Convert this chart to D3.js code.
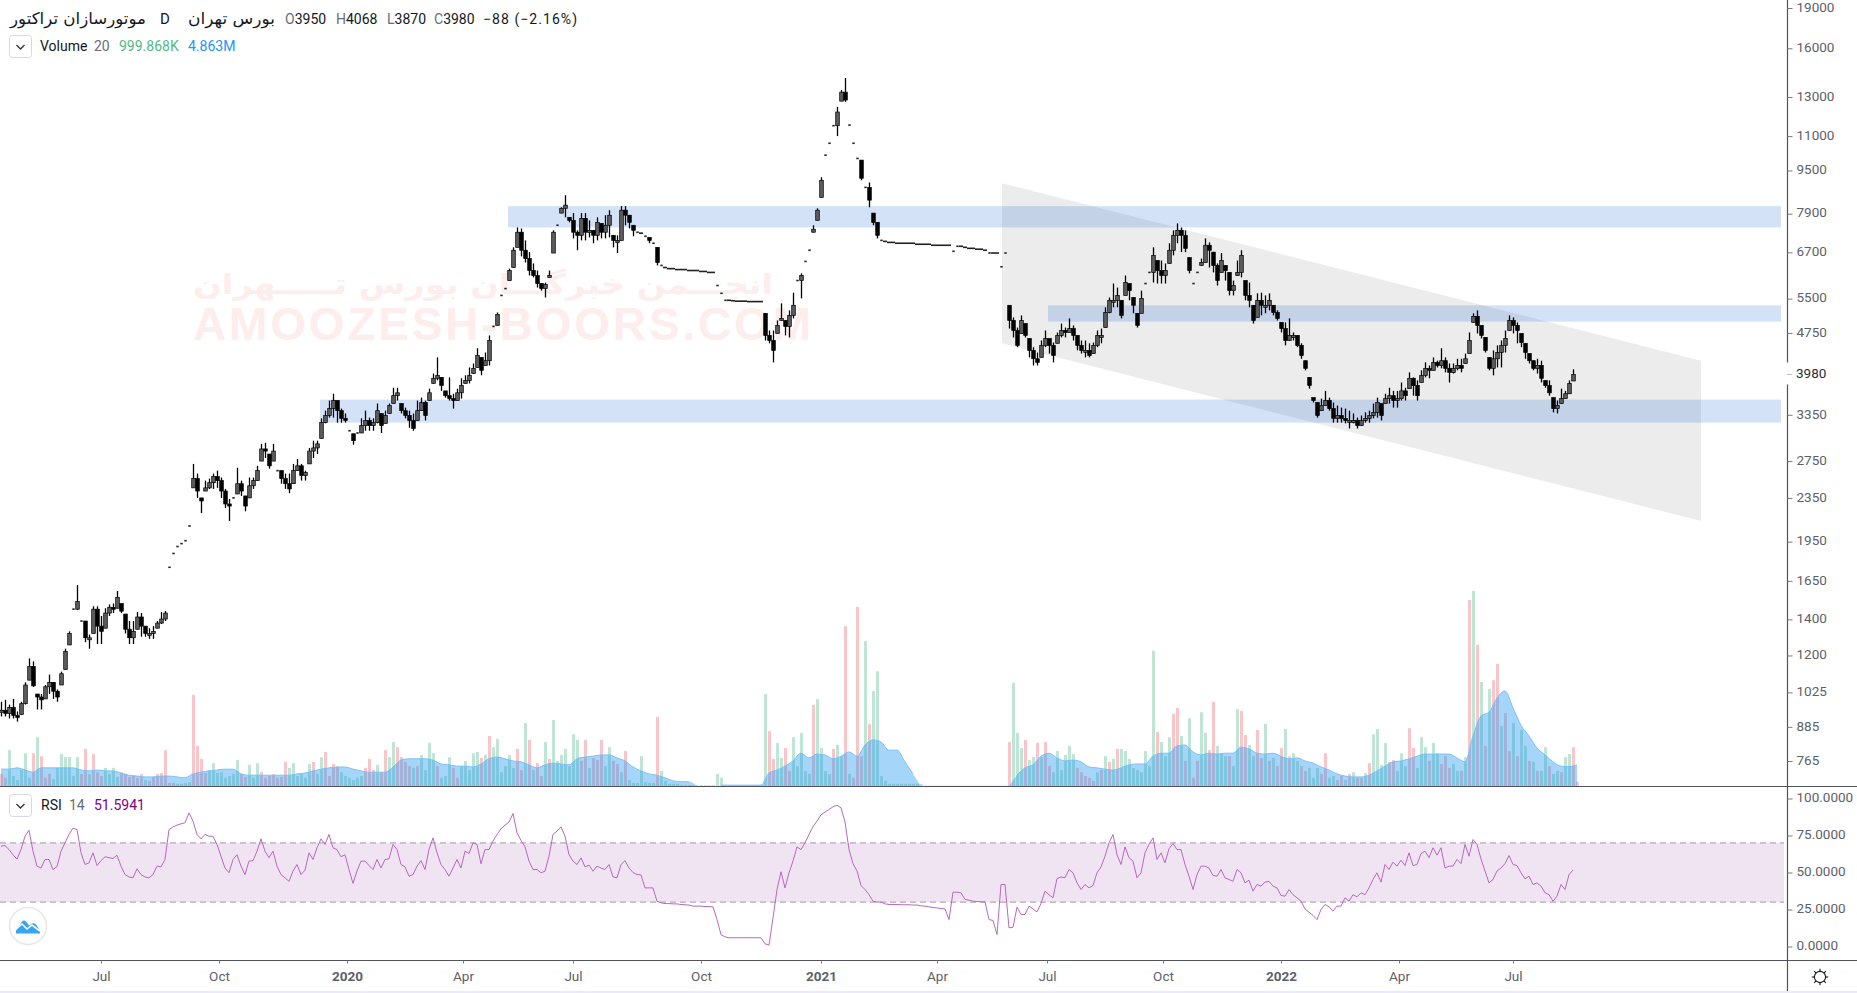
<!DOCTYPE html>
<html><head><meta charset="utf-8">
<script src="https://cdn.jsdelivr.net/npm/d3@7/dist/d3.min.js"></script>
<style>
html,body{margin:0;padding:0;background:#fff;overflow:hidden}
svg{display:block}
text{font-family:Roboto,sans-serif}
.fa{font-family:"DejaVu Sans",sans-serif}
</style></head><body>
<svg id="c" width="1857" height="993"></svg>
<script>
// Session closes, sampled every second trading bar
const closes=[950,937,961,929,921,977,1058,1145,1054,1005,
993,1050,1070,1030,1005,1110,1220,1318,1462,1510,
1390,1294,1294,1462,1360,1330,1438,1474,1462,1538,
1450,1342,1294,1330,1414,1360,1318,1318,1330,1378,
1402,1438,1748,1854,1910,1934,1958,2085,2552,2420,
2320,2453,2508,2574,2530,2420,2290,2270,2350,2497,
2420,2270,2475,2530,2640,2896,2870,2695,2870,2640,
2552,2497,2442,2640,2695,2585,2618,2870,2909,2960,
3240,3340,3440,3560,3410,3300,3270,3130,3000,3100,
3200,3270,3200,3240,3410,3200,3340,3485,3635,3680,
3410,3340,3270,3160,3410,3530,3340,3680,3915,3965,
3795,3635,3590,3560,3680,3795,3880,3965,4085,4315,
4050,4220,4600,4885,5140,5575,5740,6200,6760,7300,
6760,6525,6200,6070,5865,5740,5840,6070,7300,7520,
8085,8195,7680,7300,7205,7745,7300,7360,7205,7615,
7300,7520,7850,7050,7050,8020,7850,7615,7360,7300,
7270,7175,7050,6965,6415,6335,6280,6250,6250,6225,
6225,6225,6200,6200,6200,6175,6175,6150,6150,5815,
5625,5460,5460,5450,5440,5440,5440,5430,5430,5430,
5430,4700,4600,4410,4905,5055,4885,5120,5345,5940,
6070,6445,6760,7395,8020,9110,10140,10670,11500,12190,
13270,12830,11530,10670,10000,9190,8840,8370,7615,7205,
7050,7020,6990,6990,6965,6965,6965,6965,6965,6935,
6935,6935,6935,6905,6905,6905,6905,6905,6730,6875,
6875,6845,6815,6815,6790,6790,6760,6680,6680,6680,
6300,6680,5010,4800,4505,5010,4700,4410,4255,4190,
4505,4640,4505,4315,4700,4800,4760,4840,4700,4505,
4410,4410,4315,4505,4700,4700,5185,5460,5460,5575,
5120,5890,5690,5345,4905,5505,5865,6150,6615,6200,
6070,6200,6760,7205,7360,7205,6815,6200,5865,6150,
6415,6905,6760,6335,5940,6470,6200,5690,5815,6150,
6615,5575,5460,5010,5460,5345,5345,5460,5185,5055,
4840,4600,4700,4700,4505,4315,4085,3795,3560,3340,
3485,3560,3440,3300,3340,3300,3270,3270,3270,3200,
3270,3300,3340,3385,3530,3340,3590,3635,3560,3590,
3710,3635,3915,3795,3635,3965,4085,4050,4190,4135,
4220,4085,4015,4085,4135,4085,4255,4600,5100,4905,
4700,4410,4085,4255,4370,4505,4640,5010,4905,4800,
4560,4370,4220,4085,4135,3915,3795,3680,3440,3485,
3590,3665,3830,3980];
// Session highs; 0 marks a session that traded flat at its close
const highs=[985,993,973,997,945,985,1070,1185,1170,1018,
1018,1058,1106,1070,1038,1120,1235,1330,0,1620,
0,1390,1312,1480,1480,1420,1468,1492,1498,1580,
1498,1432,1390,1390,1444,1438,1360,1348,1360,1390,
1444,1450,0,0,0,0,0,0,2717,2607,
2350,2530,2552,2607,2640,2563,2442,2340,0,2673,
2530,2370,2563,2563,2695,2960,2973,2834,2960,0,
2640,2607,2607,2717,2774,2717,2640,2909,3000,3000,
3300,3410,3560,3665,3560,3440,3370,0,3090,0,
3300,3410,3310,3300,3515,3370,3410,3515,3760,3760,
3515,3455,3410,3370,3560,3605,3560,3745,3995,4280,
3930,3710,3930,3665,3745,3915,3965,4100,4170,4450,
4280,4370,4700,0,5185,0,0,6250,6845,7450,
7420,7050,6705,6390,6200,5865,5890,6200,7360,0,
8120,8550,7780,7920,7360,7920,7920,7680,7360,7780,
7580,7850,8020,7205,7205,8160,8160,7850,7520,0,
0,0,7140,0,6845,0,0,0,0,0,
0,0,0,0,0,0,0,0,0,0,
0,0,0,0,0,0,0,0,0,0,
0,5165,4800,4800,5010,5390,5010,5230,5640,0,
6125,0,0,7520,8085,9230,0,0,0,12460,
13390,14090,0,0,0,9930,0,9030,7920,7615,
0,0,0,0,0,0,0,0,0,0,
0,0,0,0,0,0,0,0,0,0,
0,0,0,0,0,0,0,0,0,0,
0,0,5345,5075,4860,5120,4945,4640,4470,4370,
4600,4800,4640,4560,4760,4945,4860,5055,4905,4700,
4600,4600,4545,4560,4800,4840,5300,5525,5865,5765,
5460,6070,5865,5525,5165,5690,0,0,6845,6470,
6470,6390,6965,7360,7580,7450,7360,6550,0,0,
6525,7110,6990,6705,6390,6680,6335,6150,5940,6470,
6760,5940,5890,5345,5625,5640,5575,5625,5345,5230,
4970,4970,5055,4760,4700,4545,4220,3930,3605,3530,
3590,3710,3605,3530,3485,3455,3440,3410,3370,3310,
3340,3385,3410,3515,3605,3515,3665,3760,3710,3710,
3845,3760,4015,3930,3880,4050,4190,4135,4280,4220,
4450,4280,4170,4170,4255,4255,4350,4760,5165,5230,
4905,4660,4280,4410,4505,4600,4800,5120,5075,4970,
4740,4545,4350,4220,4255,4220,3880,3880,3605,3560,
3745,3710,3880,4068];
// Session lows; 0 marks a flat session
const lows=[925,925,917,917,905,933,973,1080,1050,953,
953,997,1018,997,985,1058,1130,1255,0,1456,
0,1270,1235,1318,1260,1260,1348,1420,1438,1468,
1438,1318,1260,1260,1342,1300,1300,1288,1288,1348,
1372,1390,0,0,0,0,0,0,2453,2350,
2202,2420,2442,2442,2453,2350,2250,2130,0,2390,
2370,2220,2350,2442,2530,2750,2786,2662,2750,0,
2497,2442,2398,2497,2640,2530,2530,2717,2786,2834,
3030,3230,3310,3310,3240,3240,3240,0,2950,0,
3100,3130,3130,3130,3230,3100,3230,3370,3515,3560,
3370,3300,3170,3130,3270,3410,3270,3560,3830,3880,
3710,3605,3560,3440,3560,3590,3830,3830,3995,4100,
3965,4135,4135,0,4905,0,0,5940,6280,6845,
6585,6415,6070,6020,5765,5690,5525,6020,6680,0,
7920,7780,7615,7110,6760,7050,7050,7140,6965,7050,
7110,7110,7140,6845,6680,7050,7520,7420,7175,0,
0,0,6965,0,6335,0,0,0,0,0,
0,0,0,0,0,0,0,0,0,0,
0,0,0,0,0,0,0,0,0,0,
0,4600,4545,4190,4740,5010,4700,4660,5055,0,
5505,0,0,7300,7680,8470,0,0,0,11000,
12770,12730,0,0,0,9110,0,8120,7520,7110,
0,0,0,0,0,0,0,0,0,0,
0,0,0,0,0,0,0,0,0,0,
0,0,0,0,0,0,0,0,0,0,
0,0,4840,4660,4470,4740,4660,4280,4135,4135,
4280,4470,4350,4190,4545,4660,4660,4760,4600,4410,
4350,4280,4280,4350,4470,4545,4860,5165,5300,5300,
5055,5575,5460,5165,4860,5165,0,0,5890,5865,
5865,5865,6390,6615,6965,6705,6705,6125,0,0,
6335,6415,6280,6150,5815,6150,5940,5575,5575,6070,
6020,5460,5300,4945,5075,5120,5165,5230,5120,5010,
4760,4505,4600,4600,4470,4255,4050,3745,3530,3310,
3410,3485,3410,3240,3240,3240,3230,3160,3230,3160,
3200,3240,3240,3300,3310,3270,3515,3515,3455,3455,
3560,3560,3745,3635,3560,3845,3930,3915,4050,4100,
4085,4015,3845,3995,4050,4015,4170,4350,4970,4740,
4640,4370,4050,3965,4100,4100,4370,4800,4740,4545,
4470,4255,4170,4050,3995,3845,3760,3635,3385,3370,
3515,3590,3665,3870];
// RSI(14), same sampling
const rsi=[67.8,68.2,65.5,62,59,65.5,74.5,78.6,64.4,54.3,
53,58.8,58.8,52,54,64.4,70,75.7,80,79,
63.3,55.4,56.5,63.3,54.7,58,60.6,60,59.5,61.7,
54.3,48.6,47,46.4,52.5,48.6,47,46.4,48.6,54.3,
53.8,58.8,79,80.8,82,82.9,83.6,90.3,84.7,75.7,
72.7,75.7,74.5,74.5,68.9,61,53,49.8,58.8,62,
54.3,48.6,57.7,58,64.4,72.7,64.4,60,64.4,54.3,
48.6,46.4,44,51,55.4,48.6,51.6,63.3,58.8,66.7,
72.7,69,75.7,66.7,65.5,60.6,62,52,42.6,51,
57.7,57.7,54.7,52,58.8,53,58.8,59.2,69,65.5,
55.4,53.8,47.5,48.6,54.3,58,52,65.5,73.4,63.3,
55.4,52,47.5,53,58.8,53,64.4,62.8,70,69,
55.9,65.5,65.5,71.2,75.7,79.5,82,84,89.9,76.8,
71.8,67.3,57.7,52,52,49.8,50.9,61,75.7,78,
80.9,74.5,62,57.7,55.4,59.9,53.8,55,50.9,54.3,
53,52,55.4,47,46.4,55.4,58,53,50,48.6,
48.4,39.6,39.6,39.6,30.6,29.5,29,29,28.8,28.8,
28.4,28.2,28,27.3,27.3,27.3,27,27,26.8,18.2,
8,6.5,5.9,5.9,5.9,5.9,5.9,5.9,5.9,5.9,
5.9,1.8,0.9,19.4,38.5,50.5,39.6,49.8,57.7,67.3,
65.5,70,75.7,80.9,84.7,89,90.8,92.6,94.4,95.5,
93.7,84.2,65.5,56,51,41.2,38.5,35,30.6,30,
30,28.8,28.4,28.4,28.4,28.2,28.2,28.2,28,28,
27.5,27.3,26.8,26.4,26.1,25.7,25.4,18.2,36.7,36.7,
36.3,31.8,31.3,30.6,30.4,30.2,30.2,18.2,17.6,8.1,
41.9,41.9,12.6,13,26.6,21.6,21.6,27.3,25.4,23.4,
29,37.4,35,32.9,45.9,47,46.4,52,49.8,43,
38.5,41.9,39.6,41.2,49.8,53.8,61,70,75.7,62,
55.4,67.3,60,57.7,46.4,49.8,63.3,69,73.4,58.8,
63.3,56.5,66,69.6,65.5,65.5,55.4,47.5,38.5,48.6,
54.3,54.3,53,48,47.5,52,46.4,45.3,44,52,
49.8,43,44.8,37.4,41.9,40.8,43.5,44,40.8,39.6,
34.5,34,38.5,35,32.9,30.6,25.4,23.2,21,18.2,
25,28.4,26.8,23.9,27.3,27.3,32.9,30.6,35,33.6,
36.3,35,39.6,45.3,49.8,43.5,55.4,52,57,54.3,
58.3,54.7,63.3,54.7,55.4,62.8,64.4,60,66.7,61.7,
66.7,53,54.3,54.3,58.8,56,69,61,72.3,69,
59.2,51,43,45.3,51,53,56,61.5,55.4,54.7,
49.8,45.7,47.5,41.9,43,40.8,36.3,35,30.6,34,
41.9,38.5,48.6,51.6];
// Volume in millions, same sampling
const volumes=[2.8,1.9,8.3,2.3,1.4,3.7,7.6,1.9,7.6,11.3,
6.9,1.9,2.8,1.6,4.2,7.4,6.7,6.7,2.3,6.7,
2.8,8.6,2.8,7.4,3.2,2.3,4.2,2.8,4.2,2.1,
3.2,2.8,2.1,2.3,1.9,2.8,1.4,1.2,2.1,2.8,
3,8.3,.7,.7,.5,.5,.7,.9,21.1,9.3,
6.3,3,3.7,5.3,3,3.2,1.9,2.3,2.8,6,
2.8,2.1,4.9,1.9,5.3,3.2,1.9,2.3,2.8,1.9,
2.1,5.6,4.2,5.3,2.3,3,1.9,5.1,5.6,2.8,
6.7,7.9,2.3,5.1,4.6,3.2,2.3,1.9,1.4,1.9,
2.3,4.2,6.3,3.7,4.9,3.2,8.3,6.7,10.2,9,
6.7,5.6,4.6,4.2,4.6,7.2,3.7,10,7.6,4.6,
1.9,2.3,6.7,4.2,1.9,4.6,5.8,3.7,7.6,7.9,
6.5,7.2,11.6,9,10.9,3.2,4.6,7.2,4.2,8.6,
3.7,14.6,10.7,3.7,5.3,2.3,10.2,6.3,15.3,5.8,
7.2,8.6,4.6,12,10.7,5.8,10.7,4.2,6.5,6,
10.7,4.6,9,5.8,5.1,3.2,8.1,1.4,.7,.7,
6.9,.9,.7,.7,16,3.5,1.2,.5,.5,.5,
.2,.2,.2,.2,.2,.2,.2,.2,.2,2.8,
1.9,.2,.2,.2,.2,.2,.2,.2,.2,.2,
.2,21.3,12.7,6.3,10,6.5,8.8,3.5,11.3,4.6,
12.3,3.5,2.8,18.8,20.1,8.8,3.5,2.8,8.6,9.5,
6.9,37,2.8,1.9,41.5,6.9,33.6,14.4,22,26.6,
2.3,1.2,.5,.5,.5,.5,.5,.5,.5,.5,
.5,.1,.1,.1,.1,.1,.1,.1,.1,.1,
.1,.1,.1,.1,.1,.1,.1,.1,.1,.1,
.1,.1,10.2,23.9,12.3,8.8,10.7,6,6.7,10,
6.7,10.2,4.6,3.2,8.1,3.7,7.2,9.3,7.4,4.2,
3.2,2.3,1.9,1.2,3.2,3.7,6.9,5.6,6.3,8.6,
8.6,8.1,6.3,4.2,3.7,3.2,8.1,4.6,31.3,12.5,
10.2,6.9,11.3,16.7,18.1,11.6,5.8,15.7,1.9,5.8,
17.1,12.3,8.3,19.5,9.3,7.4,6.9,6.9,4.6,17.8,
17.4,11.8,9.5,6.9,13,6.5,14.4,5.8,6.5,4.6,
8.8,13.2,6.9,7.6,5.8,4.6,3.5,4.2,1.9,4.2,
2.8,7.6,1.9,2.3,1.4,2.3,1.4,2.8,3.2,1.9,
1.9,3,5.3,12,13.2,4.9,10,5.6,6,3.5,
7.6,4.6,13.4,8.8,4.2,11.3,9,5.8,10,7.6,
5.1,6.9,4.2,5.1,3.5,3.5,6.7,43.1,45.2,32.7,
24.1,9.3,22.5,24.5,28.3,13.9,16.9,8.1,14.6,6.9,
13,9.3,5.8,5.6,3.5,3.5,9,4.6,2.8,3.5,
3.2,6.7,7.4,9,0.999868];
// Direction of each volume bar: g = up session, r = down session
const volumeDirs=("rrggggggrg rrrggggggg rrgrrrgggg rrrrrrgrrr rrrrggggrr "+
"rrgggggggg rrgggrrrrr rrggggggrg grrrrggggg grrrgrrggr "+
"rrrgrggggr gggrrggggg rgrggggggr rgrgrrgrgg gggggrrgrr "+
"rggrrgrggg ggggrggggg gggggggggg gggggggggg ggrrggrrgg "+
"gggrggggrg grgrrrgrgg gggggggggg gggggggggg gggggggggg "+
"ggrgggrggr grrggggggr rrrrgrgrgr gggggggggr gggrrgrgrr "+
"ggrrgggrgg rrggrrgrgr rgrggrrggg rrggrrgrgr rgrggggrrg "+
"ggrrgggrgg rrrggrgrgr grgrrgrrgr ggrgrggrgg rggrrrgrgg "+
"rgrrgggggr rrgrg").replace(/ /g,"");
// 20-bar volume average, in millions, sampled every fourth bar; null where it has no value
const volumeAverage=[3.9,3.9,4.2,3.7,3.2,4.2,4.2,4.2,4.2,4.2,
3.7,3.5,3.7,3.5,3.5,3,2.5,2.3,2.1,2.1,
2.3,2.3,2.1,1.9,2.8,3.2,3.5,3.7,3.9,3.9,
2.8,2.5,2.5,2.5,2.5,2.5,2.5,2.8,3,3.5,
3.9,4.2,4.4,4.4,3.9,3.5,3.2,3.2,3.2,4.4,
6,6.3,6.3,6.3,6,5.1,4.9,4.6,4.6,4.4,
5.1,6.3,6.7,6.3,5.8,5.6,4.9,4.2,4.9,5.3,
5.1,4.9,6.3,6.7,6.9,7.2,7.2,6.5,5.8,4.4,
3.5,2.8,2.5,1.9,1.2,1,1,0,null,null,
.2,.2,.2,.2,.2,.2,3,3.7,4.6,5.8,
7.6,6.5,7.4,7.2,6.3,6.9,7.9,6.9,9.5,10.7,
10.2,8.3,8.3,5.6,2.8,0,null,null,null,null,
null,null,null,null,null,null,0,2.5,4.2,4.9,
6.9,7.6,6.5,5.8,6,5.6,4.4,4.2,3.9,3.7,
4.2,4.9,5.1,5.1,6.9,7.6,7.6,9.3,9.5,7.9,
7.2,7.6,7.4,7.6,7.6,9,8.6,7.6,7.4,7.6,
6.9,6.3,6.5,5.8,5.3,4.4,3.7,2.8,2.3,2.1,
2.1,2.5,3.5,4.6,5.6,5.8,6.3,6.9,7.4,7.4,
7.4,7.4,6.5,5.6,11.6,16.2,17.1,20.4,22,18.1,
14.1,11.6,8.8,7.2,5.6,4.6,4.5,4.863];
const priceTicks=[19000,16000,13000,11000,9500,7900,6700,5500,4750,3980,3350,2750,2350,1950,1650,1400,1200,1025,885,765];
const rsiTicks=[100,75,50,25,0];
const rsiBand=[70,30];
const timeLabels=["Jul","Oct","2020","Apr","Jul","Oct","2021","Apr","Jul","Oct","2022","Apr","Jul"];
const timeBars=[50,109,173,231,286,350,410,468,523,581,640,699,756];
// Horizontal zones: first bar, top price, bottom price
const zoneStartBars=[253.5,523.5,159.5];
const zoneTops=[8160,5345,3575];
const zoneBottoms=[7450,4985,3240];
const zoneEndBar=890;
// Descending channel corners: bar, price
const channelBars=[500.5,850,850,500.5];
const channelPrices=[9000,4220,2130,4545];

const W=1857,H=993,axisX=1787,mainBottom=786,rsiBottom=960,pageBottom=991;
const svg=d3.select("#c");
const xBar=d3.scaleLinear().domain([0,893]).range([1,axisX]);
const yPrice=d3.scaleLog().domain([19000,765]).range([8,761]);
const yVol=d3.scaleLinear().domain([0,46]).range([mainBottom,587.4]);
const yRsi=d3.scaleLinear().domain([0,100]).range([946.5,798.5]);
const BAR_STEP=2, AVG_STEP=4;

const bars=closes.map((c,k)=>{
  const flat=highs[k]===0;
  const hi=flat?c:highs[k], lo=flat?c:lows[k];
  const prev=k?closes[k-1]:c;
  const open=flat?c:Math.min(hi,Math.max(lo,prev));
  // a flat session beside another at nearly the same price reads as a dash
  const run=flat&&k>0&&highs[k-1]===0&&Math.abs(yPriceDiff(prev,c))<2.5;
  return {k,c,hi:Math.max(hi,c),lo:Math.min(lo,c),open,flat,run};
});
function yPriceDiff(a,b){return 234.4*Math.log(a/b);}

// watermark
const wm=svg.append("g").attr("fill","#fdeded");
wm.append("text").attr("class","fa").attr("x",193).attr("y",294)
  .attr("font-size",28).attr("font-weight","bold")
  .attr("textLength",580).attr("lengthAdjust","spacingAndGlyphs")
  .text("انجـــمن خبرگـــان بورس تـــــهران");
wm.append("text").attr("x",193).attr("y",340).attr("font-size",46).attr("font-weight","bold")
  .style("font-family","'Liberation Sans',sans-serif")
  .attr("textLength",618).attr("lengthAdjust","spacing").text("AMOOZESH-BOORS.COM");

// channel and zones
const channelLine=d3.line().x(d=>xBar(d[0])).y(d=>yPrice(d[1]));
svg.append("path").attr("d",channelLine(d3.zip(channelBars,channelPrices))+"Z").attr("fill","#ececec");
svg.append("g").selectAll("rect").data(zoneStartBars).join("rect")
  .attr("x",d=>xBar(d)).attr("width",d=>xBar(zoneEndBar)-xBar(d))
  .attr("y",(d,i)=>yPrice(zoneTops[i]))
  .attr("height",(d,i)=>yPrice(zoneBottoms[i])-yPrice(zoneTops[i]))
  .attr("fill","rgba(38,110,220,.2)");

// volume bars, then the average over them
svg.append("g").selectAll("rect").data(volumes).join("rect")
  .attr("x",(d,k)=>xBar(k*BAR_STEP)-1).attr("width",3)
  .attr("y",d=>yVol(d)).attr("height",d=>yVol(0)-yVol(d))
  .attr("fill",(d,k)=>volumeDirs[k]==="r"?"#fac5c8":"#bfe6d5");
const avgPts=volumeAverage.map((v,j)=>({v,i:j*AVG_STEP}));
svg.append("path").datum(avgPts)
  .attr("d",d3.area().defined(d=>d.v!==null).x(d=>xBar(d.i)).y0(yVol(0)).y1(d=>yVol(d.v)).curve(d3.curveMonotoneX))
  .attr("fill","rgba(33,150,243,.4)");
svg.append("path").datum(avgPts)
  .attr("d",d3.line().defined(d=>d.v!==null&&d.v>0).x(d=>xBar(d.i)).y(d=>yVol(d.v)).curve(d3.curveMonotoneX))
  .attr("fill","none").attr("stroke","#7cc2f8").attr("stroke-width",1);

// candles
const cg=svg.append("g").style("filter","blur(0.4px)");
cg.selectAll("line").data(bars.filter(b=>!b.flat)).join("line")
  .attr("x1",b=>xBar(b.k*BAR_STEP)+.5).attr("x2",b=>xBar(b.k*BAR_STEP)+.5)
  .attr("y1",b=>yPrice(b.hi)).attr("y2",b=>yPrice(b.lo))
  .attr("stroke","#000").attr("stroke-width",1.3);
cg.selectAll("rect").data(bars).join("rect")
  .attr("x",b=>xBar(b.k*BAR_STEP)-(b.run?2:b.flat?.7:1.3))
  .attr("width",b=>b.run?4:b.flat?2.4:3.6)
  .attr("y",b=>b.flat?yPrice(b.c)-.8:yPrice(Math.max(b.open,b.c)))
  .attr("height",b=>b.flat?1.6:Math.max(2,Math.abs(yPrice(b.open)-yPrice(b.c))))
  .attr("fill",b=>b.flat?"#222":(b.c>=b.open?"#5c5c5c":"#000"))
  .attr("stroke",b=>b.flat?"none":"#000").attr("stroke-width",.7);

// RSI
svg.append("rect").attr("x",0).attr("width",1784).attr("y",yRsi(rsiBand[0]))
  .attr("height",yRsi(rsiBand[1])-yRsi(rsiBand[0])).attr("fill","#f0e4f2");
svg.append("g").selectAll("line").data(rsiBand).join("line")
  .attr("x1",0).attr("x2",1784).attr("y1",d=>yRsi(d)).attr("y2",d=>yRsi(d))
  .attr("stroke","#b5a9b6").attr("stroke-width",1.3).attr("stroke-dasharray","6,4");
svg.append("path").datum(rsi)
  .attr("d",d3.line().x((d,k)=>xBar(k*BAR_STEP)).y(d=>yRsi(d)))
  .attr("fill","none").attr("stroke","#b868c2").attr("stroke-width",1);

// frames
const frame="#50535e";
svg.append("rect").attr("x",0).attr("y",pageBottom).attr("width",W).attr("height",H-pageBottom).attr("fill","#eceafa");
[mainBottom,rsiBottom].forEach(y=>svg.append("line").attr("x1",0).attr("x2",W).attr("y1",y+.5).attr("y2",y+.5).attr("stroke",frame));
svg.append("line").attr("x1",axisX+.5).attr("x2",axisX+.5).attr("y1",0).attr("y2",pageBottom).attr("stroke",frame).attr("stroke-width",1.2);

// axes
function styleAxis(g){
  g.select(".domain").remove();
  g.selectAll("line").attr("stroke","#777b85");
  g.selectAll("text").attr("fill","#5d606b").style("font-family","Roboto,sans-serif").attr("font-size",13.5).attr("dy","0.24em");
}
svg.append("g").attr("transform",`translate(${axisX+.5},0)`)
  .call(d3.axisRight(yPrice).tickValues(priceTicks).tickFormat(d3.format("d")).tickSize(5).tickPadding(4))
  .call(styleAxis);
svg.append("g").attr("transform",`translate(${axisX+.5},0)`)
  .call(d3.axisRight(yRsi).tickValues(rsiTicks).tickFormat(d3.format(".4f")).tickSize(5).tickPadding(4))
  .call(styleAxis);
const tAxis=svg.append("g").attr("transform",`translate(0,${rsiBottom+.5})`)
  .call(d3.axisBottom(xBar).tickValues(timeBars).tickFormat((d,i)=>timeLabels[i]).tickSize(3).tickPadding(8))
  .call(styleAxis);
tAxis.selectAll("text").attr("font-size",13.5).attr("dy","0.71em")
  .attr("font-weight",(d,i)=>/^\d/.test(timeLabels[i])?"bold":"normal");

// last price label breaks the axis line
const lastY=yPrice(closes[closes.length-1]);
svg.append("rect").attr("x",axisX-1).attr("y",lastY-12).attr("width",60).attr("height",22).attr("fill","#fff");
svg.append("line").attr("x1",axisX).attr("x2",axisX+5).attr("y1",lastY).attr("y2",lastY).attr("stroke","#bbb");
svg.append("text").attr("x",axisX+9).attr("y",lastY+3.5).attr("font-size",13.5).attr("fill","#2a2e39").text(d3.format("d")(closes[closes.length-1]));

// legend
const ink="#131722",dim="#6a6d78";
const t=(x,y,s,fill,size,cls)=>svg.append("text").attr("x",x).attr("y",y).attr("fill",fill).attr("font-size",size||14).attr("class",cls||null).text(s);
t(10,24,"موتورسازان تراکتور",ink,16,"fa").attr("textLength",136).attr("lengthAdjust","spacingAndGlyphs");
t(160,24,"D",ink,15);
t(188,24,"بورس تهران",ink,16,"fa").attr("textLength",87).attr("lengthAdjust","spacingAndGlyphs");
const ohlcLabels=["O","H","L","C"],ohlcValues=["3950","4068","3870","3980"],ohlcX=[285,336,387,434];
ohlcLabels.forEach((l,i)=>{
  const e=t(ohlcX[i],23.5,l,dim);
  e.append("tspan").attr("fill",ink).text(ohlcValues[i]);
});
t(483,23.5,"−88 (−2.16%)",ink,14).attr("textLength",94);
function box(y){
  svg.append("rect").attr("x",9.5).attr("y",y+.5).attr("width",22).attr("height",22).attr("rx",3).attr("fill","#fff").attr("stroke","#d8d9de");
  svg.append("path").attr("d",`M16.5 ${y+10}l4 4l4 -4`).attr("fill","none").attr("stroke","#333").attr("stroke-width",1.3);
}
box(35); box(794);
t(40,51,"Volume",ink);
t(94,51,"20",dim);
t(119,51,"999.868K","#53b987");
t(188,51,"4.863M","#2196f3");
t(41,810,"RSI",ink);
t(69,810,"14",dim);
t(94,810,"51.5941","#800080");

// logo
svg.append("circle").attr("cx",28).attr("cy",926).attr("r",18.5).attr("fill","#fff").attr("stroke","#e6e6e6").attr("stroke-width",1.5);
svg.append("path").attr("d","M16 933.5v-3l6-9q2-2 4 0l3 4l3-2q2-1 4 1l4 6v3z").attr("fill","#37a6ef");
svg.append("path").attr("d","M15 930l7-6l5 5l5-4l8 6").attr("fill","none").attr("stroke","#fff").attr("stroke-width",1.6);

// sun button
const sun=svg.append("g").attr("transform","translate(1820,977)").attr("stroke","#131722").attr("fill","none").attr("stroke-width",1.1);
sun.append("circle").attr("r",5.6);
d3.range(8).forEach(i=>{
  const a=i*Math.PI/4;
  sun.append("line").attr("x1",5.6*Math.cos(a)).attr("y1",5.6*Math.sin(a)).attr("x2",8.2*Math.cos(a)).attr("y2",8.2*Math.sin(a));
});
</script></body></html>
